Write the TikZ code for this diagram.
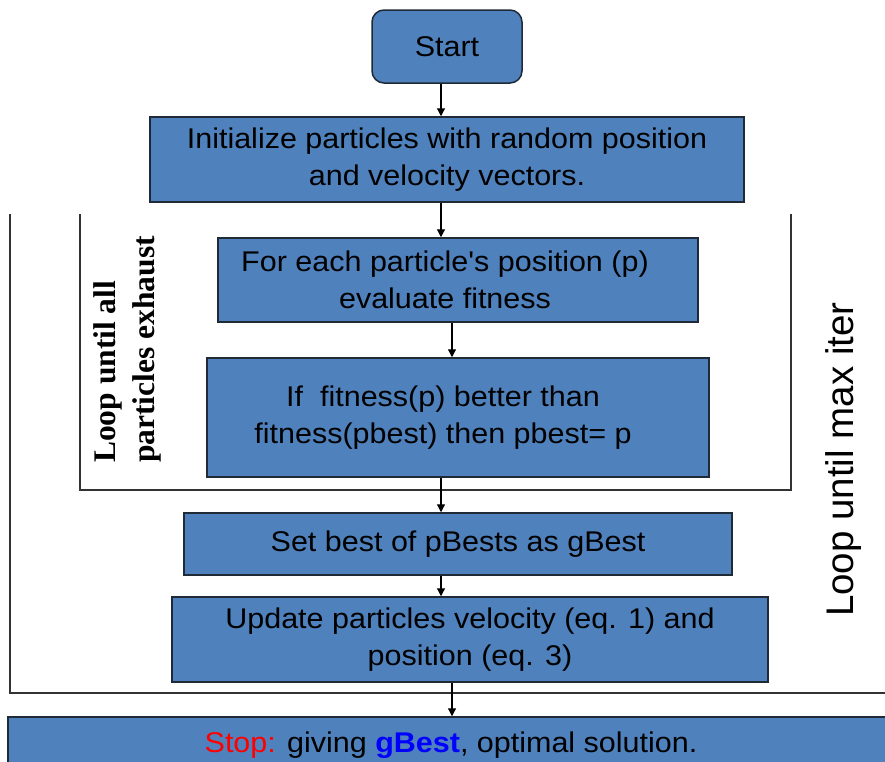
\documentclass[tikz,border=0pt]{standalone}
\usepackage{fontspec}
\setmainfont{Liberation Sans}
\newfontfamily\boxfont[FakeStretch=1.07]{Liberation Sans}
\newfontfamily\serifb{Liberation Serif}
\usetikzlibrary{arrows.meta,calc}
\definecolor{boxblue}{HTML}{4F81BD}
\definecolor{boxedge}{HTML}{1F2A36}
\definecolor{stopred}{HTML}{FF0000}
\definecolor{gblue}{HTML}{0000FF}
\begin{document}
\begin{tikzpicture}[x=1pt,y=-1pt,
  box/.style={draw=boxedge, fill=boxblue, line width=1.5pt, inner sep=0pt},
  txt/.style={font=\boxfont\fontsize{28.5}{37}\selectfont, align=center, text=black, inner sep=0pt},
  arr/.style={draw=black, line width=1.2pt, -{Triangle[length=8pt,width=8pt]}},
  loopline/.style={draw=black!80, line width=1.5pt}]
\useasboundingbox (0,0) rectangle (885,761);
\clip (0,0) rectangle (885,761);
\fill[white] (0,0) rectangle (885,761);
% loop brackets
\draw[loopline] (10,214) -- (10,693) -- (885,693);
\draw[loopline] (80,214) -- (80,490) -- (791,490) -- (791,214);
% boxes
\node[box, rounded corners=12pt, minimum width=150pt, minimum height=73pt, txt] (start) at (447,46.5) {Start};
\node[box, minimum width=594pt, minimum height=85pt, txt] (init) at (447,159.5) {Initialize particles with random  position\\and velocity vectors.};
\node[box, minimum width=480pt, minimum height=84pt] (feval) at (458,280) {};
\node[txt] (fevalt) at (445,280) {For each particle's position (p)\\evaluate fitness};
\node[box, minimum width=502pt, minimum height=119pt] (ifb) at (458,417.5) {};
\node[txt] (ifbt) at (443,418) {If\ \ fitness(p) better than\\fitness(pbest) then pbest= p};
\node[box, minimum width=548pt, minimum height=62pt, txt] (setb) at (458,544) {Set best of pBests as gBest};
\node[box, minimum width=596pt, minimum height=85pt, txt] (upd) at (470,639.5) {Update particles velocity (eq. 1) and\\position (eq. 3)};
\node[box, minimum width=892pt, minimum height=63pt] (stop) at (454,748.5) {};
\node[txt] (stopt) at (451,745) {{\color{stopred}Stop:} giving {\color{gblue}\bfseries gBest}, optimal solution.};
% loop labels
\node[rotate=90, anchor=west, align=left, inner sep=0pt,
      font=\serifb\bfseries\fontsize{31.5}{39}\selectfont] (inlab) at (127,463) {Loop until all\\particles exhaust};
\node[rotate=90, anchor=west, inner sep=0pt,
      font=\fontsize{38.5}{44}\selectfont] (outlab) at (844,617) {Loop until max iter};
% arrows
\coordinate (xa) at (441,0);
\coordinate (xb) at (452,0);
\draw[arr] (start.south -| xa) -- (init.north -| xa);
\draw[arr] (init.south -| xa) -- (feval.north -| xa);
\draw[arr] (feval.south -| xb) -- (ifb.north -| xb);
\draw[arr] (ifb.south -| xa) -- (setb.north -| xa);
\draw[arr] (setb.south -| xa) -- (upd.north -| xa);
\draw[arr] (upd.south -| xb) -- (stop.north -| xb);
\end{tikzpicture}
\end{document}
